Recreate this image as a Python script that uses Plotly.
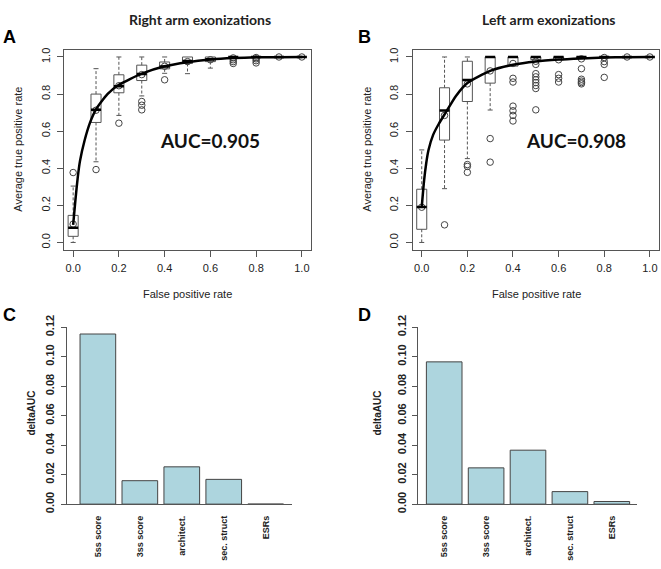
import plotly.graph_objects as go

W, H = 661, 569

# ---------------- data ----------------
fpr = [0.0, 0.1, 0.2, 0.3, 0.4, 0.5, 0.6, 0.7, 0.8, 0.9, 1.0]

# Panel A: Right arm exonizations (boxplot stats per false positive rate)
a_q1 = [0.033, 0.647, 0.807, 0.873, 0.936, 0.965, 0.975, 1.0, 1.0, 1.0, 1.0]
a_med = [0.080, 0.716, 0.842, 0.908, 0.949, 0.978, 0.988, 1.0, 1.0, 1.0, 1.0]
a_q3 = [0.146, 0.800, 0.904, 0.956, 0.973, 1.0, 1.0, 1.0, 1.0, 1.0, 1.0]
a_lo = [0.0, 0.435, 0.685, 0.790, 0.912, 0.910, 0.940, 1.0, 1.0, 1.0, 1.0]
a_hi = [0.304, 0.937, 1.0, 1.0, 1.0, 1.0, 1.0, 1.0, 1.0, 1.0, 1.0]
a_out = [[0.377], [0.393], [0.643], [0.760, 0.740, 0.715], [0.877], [], [],
         [0.985, 0.975, 0.965], [0.990, 0.980, 0.968], [], []]
a_mean = [0.099, 0.713, 0.845, 0.905, 0.950, 0.975, 0.985, 0.995, 0.997, 1.0, 1.0]
a_curve_x = [0.0, 0.01, 0.02, 0.03, 0.05, 0.075, 0.1, 0.15, 0.2, 0.3, 0.4, 0.5, 0.6, 0.7, 0.8, 0.9, 1.0]
a_curve_y = [0.095, 0.23, 0.35, 0.44, 0.55, 0.65, 0.718, 0.80, 0.85, 0.91, 0.95, 0.972, 0.986, 0.994, 0.998, 0.999, 1.0]
a_auc = "AUC=0.905"

# Panel B: Left arm exonizations
b_q1 = [0.071, 0.552, 0.760, 0.859, 0.951, 0.986, 0.985, 0.995, 1.0, 1.0, 1.0]
b_med = [0.191, 0.711, 0.876, 1.0, 1.0, 1.0, 1.0, 1.0, 1.0, 1.0, 1.0]
b_q3 = [0.287, 0.834, 0.977, 1.0, 1.0, 1.0, 1.0, 1.0, 1.0, 1.0, 1.0]
b_lo = [0.0, 0.290, 0.452, 0.714, 0.951, 0.986, 0.985, 0.995, 1.0, 1.0, 1.0]
b_hi = [0.499, 1.0, 1.0, 1.0, 1.0, 1.0, 1.0, 1.0, 1.0, 1.0, 1.0]
b_out = [[], [0.095], [0.420, 0.410, 0.378], [0.560, 0.433],
         [0.885, 0.865, 0.735, 0.710, 0.685, 0.655],
         [0.960, 0.910, 0.893, 0.877, 0.862, 0.846, 0.830, 0.715],
         [0.905, 0.885, 0.865],
         [0.937, 0.880, 0.870, 0.862, 0.855],
         [0.975, 0.960, 0.890], [], []]
b_mean = [0.19, 0.685, 0.855, 0.925, 0.965, 0.977, 0.985, 0.990, 0.997, 1.0, 1.0]
b_curve_x = [0.0, 0.01, 0.02, 0.03, 0.05, 0.075, 0.1, 0.15, 0.2, 0.3, 0.4, 0.5, 0.6, 0.7, 0.8, 0.9, 1.0]
b_curve_y = [0.19, 0.33, 0.43, 0.50, 0.58, 0.64, 0.69, 0.79, 0.86, 0.925, 0.958, 0.976, 0.986, 0.992, 0.997, 0.999, 1.0]
b_auc = "AUC=0.908"

# Panels C / D: deltaAUC per feature group
features = ["5ss score", "3ss score", "architect.", "sec. struct", "ESRs"]
c_delta = [0.1154, 0.0159, 0.0253, 0.0168, 0.0]
d_delta = [0.0965, 0.0246, 0.0366, 0.0085, 0.0018]

xticks_roc = [0.0, 0.2, 0.4, 0.6, 0.8, 1.0]
xtick_text = ["0.0", "0.2", "0.4", "0.6", "0.8", "1.0"]
yticks_bar = [0.0, 0.02, 0.04, 0.06, 0.08, 0.10, 0.12]
ytick_bar_text = ["0.00", "0.02", "0.04", "0.06", "0.08", "0.10", "0.12"]

# ---------------- helpers ----------------
def px_x(p):
    return p / W

def px_y(p):
    return 1 - p / H

FRAME = "#555555"
BOXW = 0.022
CAPW = 0.011


def box_traces(pos, q1, med, q3, lo, hi, out, mean, cx, cy, xa, ya):
    tr = []
    bx, by = [], []
    for x, a, c in zip(pos, q1, q3):
        if c > a:
            bx += [x - BOXW, x + BOXW, x + BOXW, x - BOXW, x - BOXW, None]
            by += [a, a, c, c, a, None]
    tr.append(go.Scatter(x=bx, y=by, mode="lines", line=dict(color=FRAME, width=1),
                         xaxis=xa, yaxis=ya, hoverinfo="skip"))
    wx, wy, kx, ky = [], [], [], []
    for x, a, c, l, h in zip(pos, q1, q3, lo, hi):
        if l < a:
            wx += [x, x, None]; wy += [a, l, None]
            kx += [x - CAPW, x + CAPW, None]; ky += [l, l, None]
        if h > c:
            wx += [x, x, None]; wy += [c, h, None]
            kx += [x - CAPW, x + CAPW, None]; ky += [h, h, None]
    tr.append(go.Scatter(x=wx, y=wy, mode="lines", line=dict(color=FRAME, width=1, dash="3px,2px"),
                         xaxis=xa, yaxis=ya, hoverinfo="skip"))
    tr.append(go.Scatter(x=kx, y=ky, mode="lines", line=dict(color=FRAME, width=1),
                         xaxis=xa, yaxis=ya, hoverinfo="skip"))
    ox, oy = [], []
    for x, o in zip(pos, out):
        ox += [x] * len(o); oy += o
    ox += pos; oy += mean
    tr.append(go.Scatter(x=ox, y=oy, mode="markers",
                         marker=dict(symbol="circle-open", size=6.5, color="#444444", line=dict(width=1)),
                         xaxis=xa, yaxis=ya, hoverinfo="skip"))
    mx, my = [], []
    for x, m in zip(pos, med):
        mx += [x - BOXW, x + BOXW, None]; my += [m, m, None]
    tr.append(go.Scatter(x=mx, y=my, mode="lines", line=dict(color="black", width=2.5),
                         xaxis=xa, yaxis=ya, hoverinfo="skip"))
    tr.append(go.Scatter(x=cx, y=cy, mode="lines", line=dict(color="black", width=2.5, shape="spline", smoothing=0.6),
                         xaxis=xa, yaxis=ya, hoverinfo="skip"))
    return tr


fig = go.Figure()
for t in box_traces(fpr, a_q1, a_med, a_q3, a_lo, a_hi, a_out, a_mean, a_curve_x, a_curve_y, "x", "y"):
    fig.add_trace(t)
for t in box_traces(fpr, b_q1, b_med, b_q3, b_lo, b_hi, b_out, b_mean, b_curve_x, b_curve_y, "x2", "y2"):
    fig.add_trace(t)

BAR_COL = "#add5de"
fig.add_trace(go.Bar(x=features, y=c_delta, width=0.85, marker=dict(color=BAR_COL, line=dict(color="#444444", width=1)),
                     xaxis="x3", yaxis="y3", hoverinfo="skip"))
fig.add_trace(go.Bar(x=features, y=d_delta, width=0.85, marker=dict(color=BAR_COL, line=dict(color="#444444", width=1)),
                     xaxis="x4", yaxis="y4", hoverinfo="skip"))

tickfont = dict(family="Liberation Sans, Arial, sans-serif", size=11, color="#222222")
boldtick = dict(family="Liberation Sans, Arial, sans-serif", size=11, color="#222222", weight="bold")

roc_x = dict(range=[-0.04, 1.04], showline=True, mirror=True, linecolor=FRAME, linewidth=1,
             ticks="outside", ticklen=6, tickcolor=FRAME, tickvals=xticks_roc, ticktext=xtick_text,
             showgrid=False, zeroline=False, tickfont=tickfont, ticklabelstandoff=2,
             ticklabeloverflow="allow")
roc_y = dict(range=[-0.04, 1.04], showline=True, mirror=True, linecolor=FRAME, linewidth=1,
             ticks="outside", ticklen=6, tickcolor=FRAME, tickvals=xticks_roc, ticktext=xtick_text,
             showgrid=False, zeroline=False, tickfont=tickfont, tickangle=-90, ticklabelstandoff=3,
             ticklabeloverflow="allow")

ydom = [px_y(247), px_y(39)]
bar_ydom = [px_y(511), px_y(327.3)]

bar_x = dict(type="category", showline=True, linecolor=FRAME, linewidth=1, ticks="", showgrid=False,
             zeroline=False, tickangle=-90, ticklabeloverflow="allow", ticklabelstandoff=7,
             tickfont=dict(family="Liberation Sans, Arial, sans-serif", size=9, color="#222222", weight="bold"))
bar_y = dict(range=[0, 0.12], showline=True, linecolor=FRAME, linewidth=1, ticks="outside", ticklen=5,
             tickcolor=FRAME, tickvals=yticks_bar, ticktext=ytick_bar_text, showgrid=False, zeroline=False,
             tickangle=-90, tickfont=boldtick, ticklabelstandoff=2, ticklabeloverflow="allow")

fig.update_layout(
    width=W, height=H, margin=dict(l=0, r=0, t=0, b=0),
    paper_bgcolor="white", plot_bgcolor="white", showlegend=False,
    xaxis=dict(roc_x, domain=[px_x(64), px_x(311)], anchor="y"),
    yaxis=dict(roc_y, domain=ydom, anchor="x"),
    xaxis2=dict(roc_x, domain=[px_x(412.6), px_x(659)], anchor="y2"),
    yaxis2=dict(roc_y, domain=ydom, anchor="x2"),
    xaxis3=dict(bar_x, domain=[px_x(66.7), px_x(292)], range=[-0.743, 4.627], anchor="y3"),
    yaxis3=dict(bar_y, domain=bar_ydom, anchor="x3"),
    xaxis4=dict(bar_x, domain=[px_x(418.3), px_x(636.7)], range=[-0.618, 4.594], anchor="y4"),
    yaxis4=dict(bar_y, domain=bar_ydom, anchor="x4"),
)

ann_font = "Liberation Sans, Arial, sans-serif"
title_font = "Lato, Liberation Sans, sans-serif"


def ann(text, x, y, size, family=ann_font, bold=False, angle=0, color="#222222"):
    fig.add_annotation(text=text, x=px_x(x), y=px_y(y), xref="paper", yref="paper",
                       showarrow=False, xanchor="center", yanchor="middle", textangle=angle,
                       font=dict(family=family, size=size, color=color, weight="bold" if bold else "normal"))


ann("Right arm exonizations", 200, 8, 14, family=title_font, bold=True)
ann("Left arm exonizations", 548, 8, 14, family=title_font, bold=True)
ann("A", 9, 26, 18, bold=True, color="black")
ann("B", 364, 26, 18, bold=True, color="black")
ann("C", 9, 315, 18, bold=True, color="black")
ann("D", 364, 315, 18, bold=True, color="black")
ann(a_auc, 210, 133, 19, family=title_font, bold=True, color="#111111")
ann(b_auc, 576, 133, 19, family=title_font, bold=True, color="#111111")
ann("False positive rate", 187.5, 293, 11)
ann("False positive rate", 536, 293, 11)
ann("Average true positive rate", 18, 143, 11, angle=-90)
ann("Average true positive rate", 367, 143, 11, angle=-90)
ann("deltaAUC", 32, 417, 10, bold=True, angle=-90)
ann("deltaAUC", 378, 417, 10, bold=True, angle=-90)

fig.write_html("out.html", config={"displayModeBar": False, "staticPlot": True},
               post_script="document.body.style.margin='0';document.body.style.overflow='hidden';")
